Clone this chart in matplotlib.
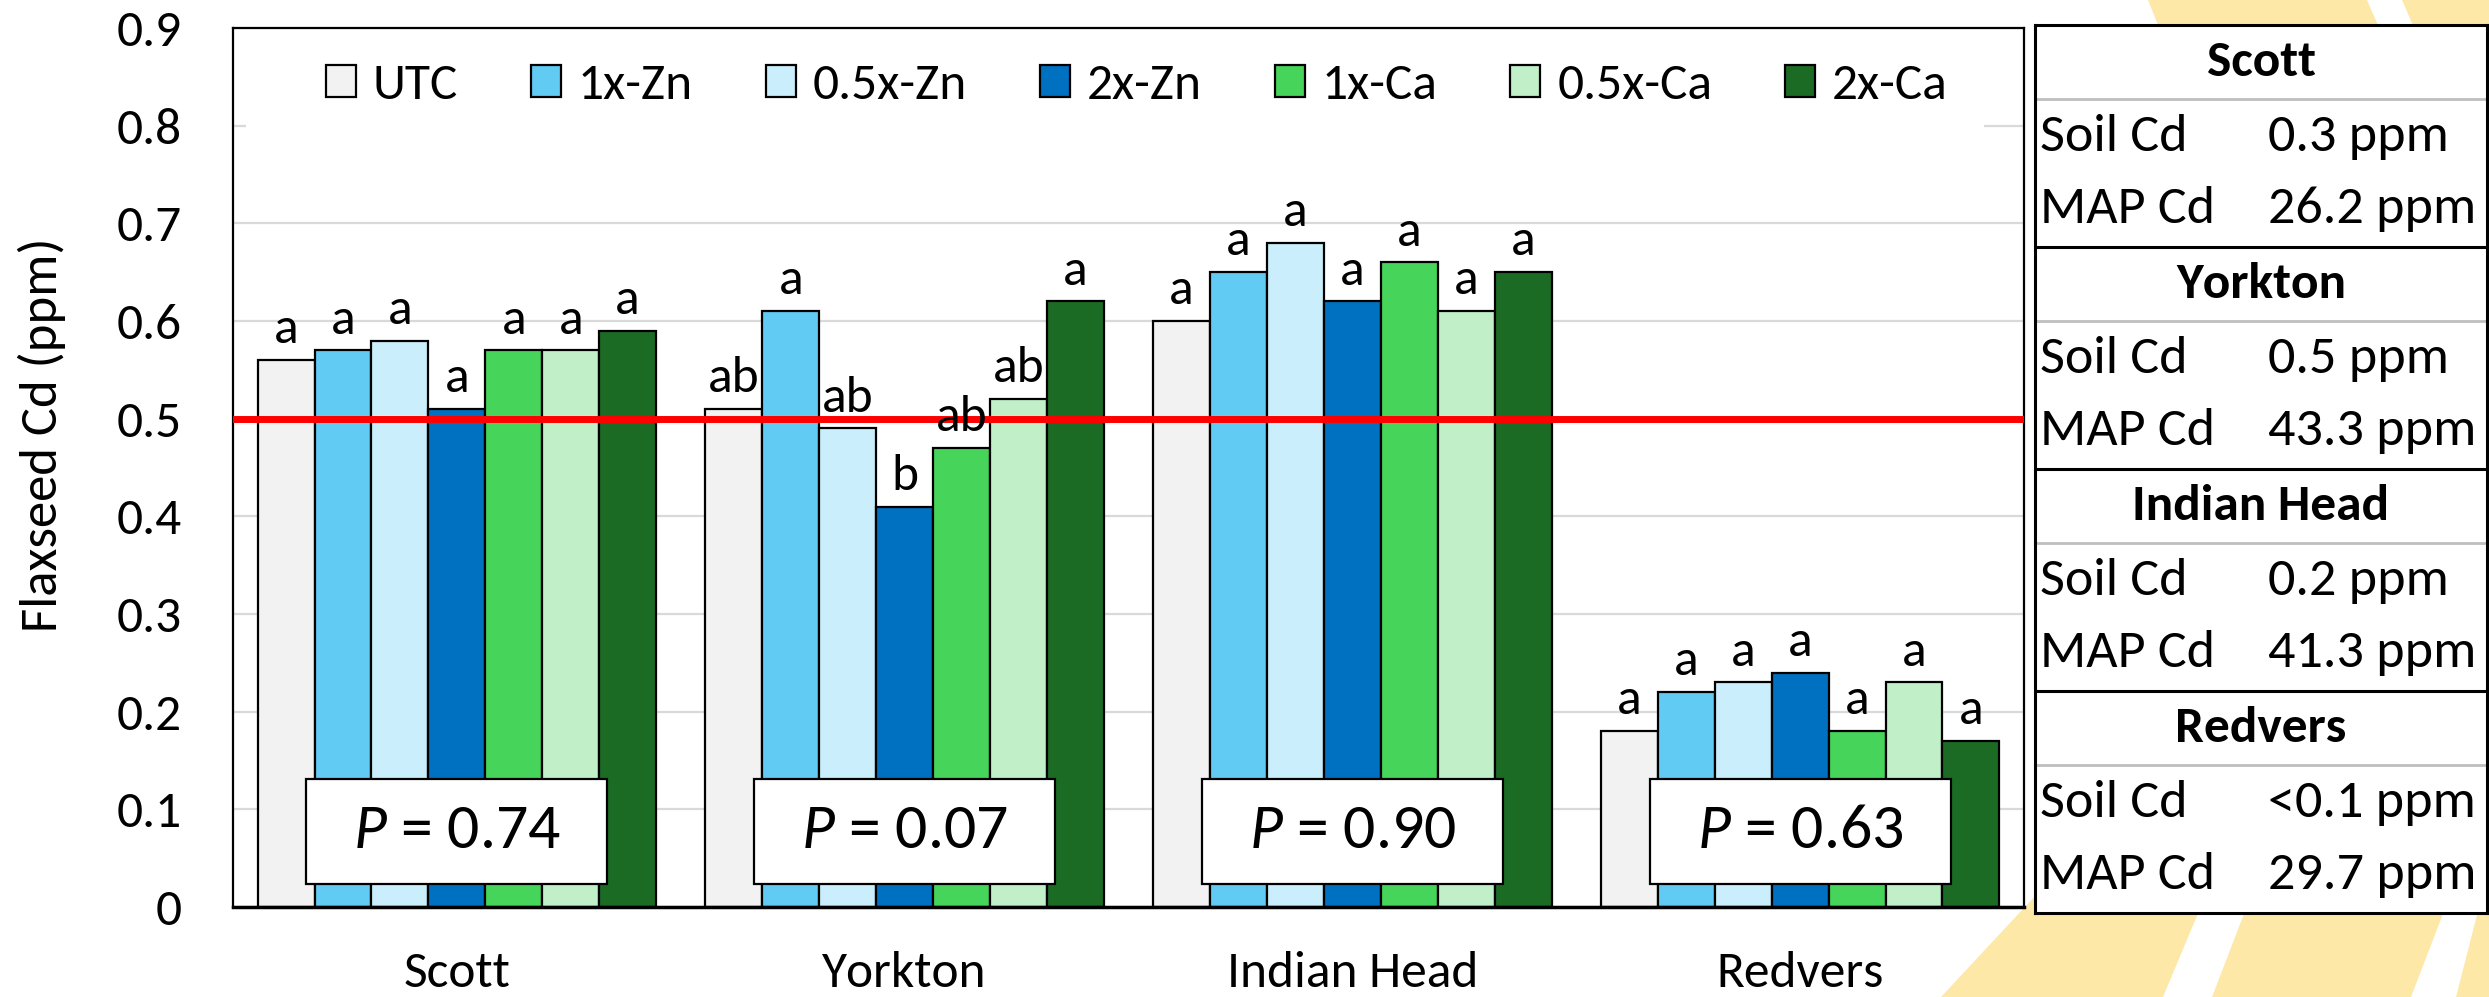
import numpy as np
import matplotlib
matplotlib.use("Agg")
import matplotlib.pyplot as plt
from matplotlib import font_manager
from matplotlib.patches import Rectangle, Polygon

# Calibri-like face if there is one, else Lato
names = set(f.name for f in font_manager.fontManager.ttflist)
font = "Carlito" if "Carlito" in names else "Lato"
scale = 1.0 if font == "Carlito" else 0.9

plt.rcParams['font.family'] = [font, 'DejaVu Sans']
plt.rcParams['mathtext.fontset'] = 'custom'
plt.rcParams['mathtext.rm'] = font
plt.rcParams['mathtext.it'] = font + ':italic'

# data
sites = ['Scott', 'Yorkton', 'Indian Head', 'Redvers']
treatments = ['UTC', '1x-Zn', '0.5x-Zn', '2x-Zn', '1x-Ca', '0.5x-Ca', '2x-Ca']
colors = ['#F2F2F2', '#61CBF3', '#CAEEFB', '#0070C0', '#47D45A', '#C1F0C8', '#1B6B25']

utc = [0.56, 0.51, 0.60, 0.18]
zn_1x = [0.57, 0.61, 0.65, 0.22]
zn_05x = [0.58, 0.49, 0.68, 0.23]
zn_2x = [0.51, 0.41, 0.62, 0.24]
ca_1x = [0.57, 0.47, 0.66, 0.18]
ca_05x = [0.57, 0.52, 0.61, 0.23]
ca_2x = [0.59, 0.62, 0.65, 0.17]
values = [utc, zn_1x, zn_05x, zn_2x, ca_1x, ca_05x, ca_2x]

letters_scott = ['a', 'a', 'a', 'a', 'a', 'a', 'a']
letters_yorkton = ['ab', 'a', 'ab', 'b', 'ab', 'ab', 'a']
letters_indian = ['a', 'a', 'a', 'a', 'a', 'a', 'a']
letters_redvers = ['a', 'a', 'a', 'a', 'a', 'a', 'a']
letters = [letters_scott, letters_yorkton, letters_indian, letters_redvers]

p_values = ['0.74', '0.07', '0.90', '0.63']
threshold = 0.5

soil_cd = ['0.3 ppm', '0.5 ppm', '0.2 ppm', '<0.1 ppm']
map_cd = ['26.2 ppm', '43.3 ppm', '41.3 ppm', '29.7 ppm']

W, H = 2489, 997
fig = plt.figure(figsize=(W / 100, H / 100), dpi=100)

# slide background stripes
def px(pts):
    return [(x / W, 1 - y / H) for x, y in pts]

yellow = '#FDE8A8'
stripes = [
    [(1941, 997), (2163, 997), (2212, 880), (2050, 880)],
    [(2212, 997), (2411, 997), (2456, 880), (2257, 880)],
    [(2456, 997), (2489, 997), (2489, 880), (2486, 880)],
    [(2148, 0), (2367, 0), (2380, 30), (2160, 30)],
    [(2402, 0), (2489, 0), (2489, 30), (2415, 30)],
]
for s in stripes:
    fig.patches.append(Polygon(px(s), closed=True, transform=fig.transFigure,
                               facecolor=yellow, edgecolor='none', zorder=-1))

ax = fig.add_axes([233 / W, 1 - 907 / H, (2024 - 233) / W, (907 - 28) / H])
ax.set_facecolor('white')

fs = 37 * scale
x = np.arange(len(sites))
bw = 0.89 / len(treatments)
for i, (t, c, v) in enumerate(zip(treatments, colors, values)):
    pos = x - 0.445 + bw * (i + 0.5)
    ax.bar(pos, v, width=bw, color=c, edgecolor='black', linewidth=1.6, label=t, zorder=2)
    for j in range(len(sites)):
        ax.text(pos[j], v[j] + 0.009, letters[j][i], ha='center', va='bottom',
                fontsize=fs, zorder=4)

ax.axhline(threshold, color='#FF0000', linewidth=5, zorder=3)

# P value boxes
for j, p in enumerate(p_values):
    ax.add_patch(Rectangle((x[j] - 0.336, 0.0235), 0.672, 0.108, facecolor='white',
                           edgecolor='black', linewidth=1.6, zorder=5))
    ax.text(x[j], 0.0775, r'$P$ = ' + p, ha='center', va='center', fontsize=46 * scale, zorder=6)

ax.set_ylim(0, 0.9)
ax.set_xlim(-0.5, len(sites) - 0.5)
ax.set_yticks(np.arange(0, 0.91, 0.1))
ax.set_yticklabels(['0'] + ['%.1f' % v for v in np.arange(0.1, 0.91, 0.1)])
ax.set_xticks(x)
ax.set_xticklabels(sites)
ax.tick_params(axis='both', length=0, labelsize=fs)
ax.tick_params(axis='y', pad=37)
ax.tick_params(axis='x', pad=32)
ax.yaxis.grid(True, color='#D9D9D9', linewidth=1.6, zorder=0)
ax.set_axisbelow(True)
for s in ax.spines.values():
    s.set_linewidth(1.6)
ax.spines['bottom'].set_linewidth(2.5)

fig.text(57 / W, 1 - 632 / H, 'Flaxseed Cd (ppm)', rotation=90, rotation_mode='anchor',
         ha='left', va='baseline', fontsize=38 * scale)

# legend sits on a white panel that hides the 0.8 grid line
ax.add_patch(Rectangle((13 / 1791, 0.775), (1984 - 246) / 1791, 0.1,
                       transform=ax.get_yaxis_transform(),
                       facecolor='white', edgecolor='none', zorder=1))
leg = ax.legend(loc='center', bbox_to_anchor=(0.5047, 0.935), ncol=7, fontsize=fs,
                frameon=False, handlelength=0.58, handleheight=0.56,
                handletextpad=0.33, columnspacing=1.42, borderpad=0.3)
leg.set_zorder(7)

# site table on the right
tx0, tx1 = 2035 / W, 2487 / W
ty0, ty1 = 1 - 913 / H, 1 - 25 / H
tab = fig.add_axes([tx0, ty0, tx1 - tx0, ty1 - ty0])
tab.set_xlim(0, 1)
tab.set_ylim(12, 0)
tab.set_xticks([])
tab.set_yticks([])
tab.set_facecolor('white')
for s in tab.spines.values():
    s.set_linewidth(2.2)
for k, site in enumerate(sites):
    r = k * 3
    tab.text(0.5, r + 0.5, site, ha='center', va='center', fontsize=37 * scale, fontweight='bold')
    tab.text(0.012, r + 1.52, 'Soil Cd', ha='left', va='center', fontsize=39 * scale)
    tab.text(0.515, r + 1.52, soil_cd[k], ha='left', va='center', fontsize=39 * scale)
    tab.text(0.012, r + 2.48, 'MAP Cd', ha='left', va='center', fontsize=39 * scale)
    tab.text(0.515, r + 2.48, map_cd[k], ha='left', va='center', fontsize=39 * scale)
    tab.axhline(r + 1, color='#BFBFBF', linewidth=2)
    if k > 0:
        tab.axhline(r, color='black', linewidth=2.2)

fig.savefig('out.png', dpi=100, facecolor='white')
